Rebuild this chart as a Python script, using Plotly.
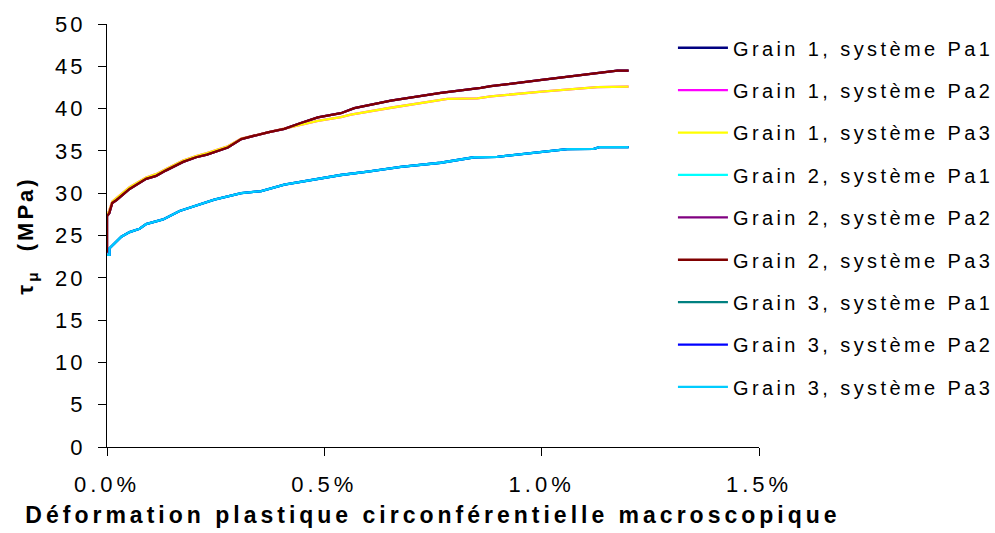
import plotly.graph_objects as go

# =========================
# Data
# strain in %, resolved shear stress tau_mu in MPa
# =========================
SERIES_NAMES = [
    "Grain 1, système Pa1",
    "Grain 1, système Pa2",
    "Grain 1, système Pa3",
    "Grain 2, système Pa1",
    "Grain 2, système Pa2",
    "Grain 2, système Pa3",
    "Grain 3, système Pa1",
    "Grain 3, système Pa2",
    "Grain 3, système Pa3",
]
SERIES_COLORS = [
    "#000080", "#FF00FF", "#FFFF00",
    "#00FFFF", "#800080", "#800000",
    "#008080", "#0000FF", "#00CCFF",
]

# upper branch (G1 Pa1, G2 Pa2, G2 Pa3 lie on top of each other)
upper_strain = [0, 0, 0.005, 0.012, 0.022, 0.052, 0.09, 0.113, 0.136, 0.175, 0.205,
                0.23, 0.278, 0.309, 0.37, 0.408, 0.446, 0.485, 0.538, 0.569, 0.653,
                0.768, 0.86, 0.883, 1.0, 1.128, 1.174, 1.2]
upper_tau = [23.0, 27.3, 27.6, 28.85, 29.2, 30.5, 31.7, 32.05, 32.7, 33.7, 34.25,
             34.55, 35.4, 36.4, 37.2, 37.6, 38.3, 38.95, 39.45, 40.05, 40.95,
             41.85, 42.45, 42.65, 43.4, 44.25, 44.5, 44.5]

# middle branch (G1 Pa2, G1 Pa3)
middle_strain = [0, 0.005, 0.012, 0.022, 0.052, 0.09, 0.113, 0.136, 0.175, 0.205,
                 0.23, 0.278, 0.309, 0.37, 0.416, 0.446, 0.485, 0.538, 0.561, 0.653,
                 0.783, 0.852, 0.883, 1.0, 1.128, 1.2]
middle_tau = [27.4, 27.9, 29.0, 29.4, 30.7, 31.85, 32.25, 32.85, 33.85, 34.4,
              34.75, 35.55, 36.45, 37.2, 37.75, 38.05, 38.55, 39.0, 39.3, 40.1,
              41.15, 41.2, 41.45, 42.0, 42.55, 42.6]

# lower branch (G2 Pa1, G3 Pa1, G3 Pa2, G3 Pa3)
lower_strain = [0, 0.006, 0.006, 0.033, 0.052, 0.075, 0.09, 0.129, 0.167, 0.205,
                0.247, 0.309, 0.355, 0.408, 0.485, 0.538, 0.6, 0.676, 0.768, 0.845,
                0.898, 0.982, 1.059, 1.12, 1.133, 1.2]
lower_tau = [22.7, 22.7, 23.5, 24.85, 25.4, 25.8, 26.35, 26.9, 27.9, 28.5,
             29.25, 30.0, 30.25, 31.0, 31.65, 32.15, 32.55, 33.1, 33.6, 34.25,
             34.3, 34.8, 35.2, 35.25, 35.45, 35.45]

SERIES_BRANCH = ["upper", "middle", "middle",
                 "lower", "upper", "upper",
                 "lower", "lower", "lower"]
BRANCHES = {
    "upper": (upper_strain, upper_tau),
    "middle": (middle_strain, middle_tau),
    "lower": (lower_strain, lower_tau),
}

FONT = "Liberation Sans, Arial, sans-serif"

fig = go.Figure()
for i, (name, color, branch) in enumerate(zip(SERIES_NAMES, SERIES_COLORS, SERIES_BRANCH)):
    xs, ys = BRANCHES[branch]
    fig.add_trace(go.Scatter(
        x=xs, y=ys, mode="lines", name=name,
        line=dict(color=color, width=2.3),
        legendgroup=f"g{i}",
    ))

fig.update_layout(
    width=995, height=533,
    paper_bgcolor="white", plot_bgcolor="white",
    margin=dict(l=107, r=236, t=24, b=86, autoexpand=False),
    font=dict(family=FONT, color="black"),
    showlegend=True,
    legend=dict(
        x=0.868, xanchor="left", y=0.99, yanchor="top",
        font=dict(family=FONT, size=20, color="black"),
        itemwidth=50, tracegroupgap=13.4,
        bgcolor="rgba(0,0,0,0)", borderwidth=0,
    ),
)

fig.update_xaxes(
    range=[0, 1.5], dtick=0.5, tickformat=".1f", ticksuffix="%",
    automargin=False,
    showgrid=False, zeroline=False,
    showline=True, linecolor="black", linewidth=1,
    ticks="outside", ticklen=8, tickcolor="black",
    ticklabelstandoff=10,
    tickfont=dict(family=FONT, size=22),
    title=dict(text="Déformation plastique circonférentielle macroscopique",
               font=dict(family=FONT, size=23, weight="bold"), standoff=10),
)
fig.update_yaxes(
    range=[0, 50], dtick=5,
    automargin=False,
    showgrid=False, zeroline=False,
    showline=True, linecolor="black", linewidth=1,
    ticks="outside", ticklen=8, tickcolor="black",
    ticklabelstandoff=8,
    tickfont=dict(family=FONT, size=22),
    title=dict(text="τ<sub>μ</sub>  (MPa)",
               font=dict(family=FONT, size=22, weight="bold"), standoff=21),
)

# the original Excel text is set with wide tracking; legend line samples are longer
POST = """
document.body.style.margin = '0';
var gd = document.getElementById('{plot_id}');
var s = document.createElement('style');
s.innerHTML = '.xtick text{letter-spacing:4px} .ytick text{letter-spacing:3px}' +
  ' .legendtext{letter-spacing:3.4px} .xtitle{letter-spacing:4px} .ytitle{letter-spacing:3px}';
document.head.appendChild(s);
gd.querySelectorAll('.legend .scrollbox').forEach(function(e) {
  e.removeAttribute('clip-path');
});
gd.querySelectorAll('.legendlines path').forEach(function(p) {
  p.setAttribute('d', 'M5,0h50');
});
"""

fig.write_html("out.html", post_script=POST, config={"displayModeBar": False})
